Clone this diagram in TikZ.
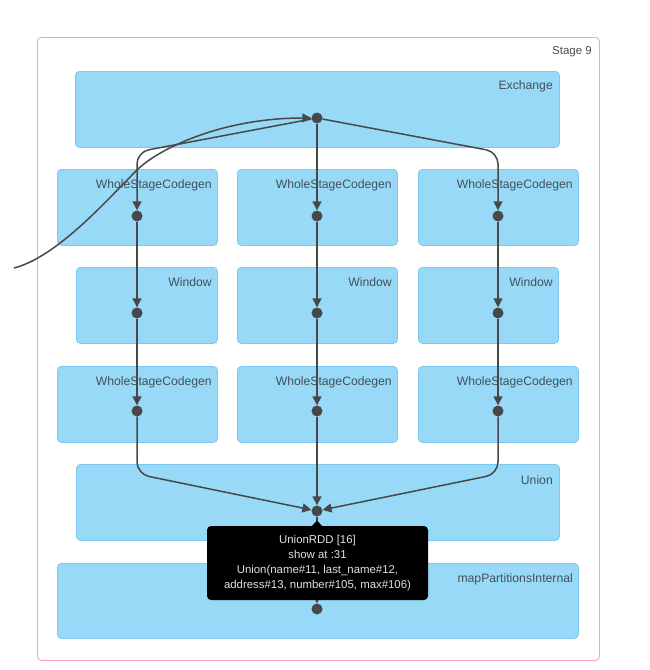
\documentclass[tikz,border=0pt]{standalone}
\usepackage{fontspec}
\setmainfont{Liberation Sans}
\usetikzlibrary{arrows.meta,calc}
\definecolor{boxfill}{RGB}{152,217,248}
\definecolor{boxline}{RGB}{125,200,240}
\definecolor{lbltext}{RGB}{68,80,90}
\definecolor{edgec}{RGB}{72,72,72}
\definecolor{stagec}{RGB}{242,160,190}
\tikzset{
  stagebox/.style={draw=stagec, line width=0.8pt, fill=white, rounded corners=4pt, inner sep=0pt, anchor=north west},
  opbox/.style={draw=boxline, line width=0.8pt, fill=boxfill, rounded corners=4pt, inner sep=0pt, anchor=north west},
  lbl/.style={anchor=north east, inner sep=0pt, text=lbltext, font=\fontsize{12.2}{14}\selectfont},
  dotnode/.style={circle, fill=edgec, inner sep=0pt, minimum size=11pt},
  edge/.style={draw=edgec, line width=1.5pt, -{Triangle[length=9pt,width=9pt]}},
  tipbox/.style={fill=black, rounded corners=4pt, inner sep=0pt, align=center, text=white!88!black,
    font=\fontsize{11.4}{15}\selectfont},
}
\begin{document}
\begin{tikzpicture}[x=1pt,y=-1pt]
\useasboundingbox (0,0) rectangle (650,670);
\fill[white] (0,0) rectangle (650,670);
% stage
\node[stagebox, minimum width=562pt, minimum height=623pt] (stage) at (37,37) {};
\node[lbl, text=black!70, font=\fontsize{11.5}{13}\selectfont] (stagelbl) at (592,46) {Stage 9};
% boxes
\node[opbox, minimum width=484pt, minimum height=76pt] (exch) at (75,71) {};
\node[lbl] (exchl) at (553,80) {Exchange};
\node[opbox, minimum width=160pt, minimum height=76pt] (wa1) at (57,169) {};
\node[opbox, minimum width=160pt, minimum height=76pt] (wa2) at (237,169) {};
\node[opbox, minimum width=160pt, minimum height=76pt] (wa3) at (418,169) {};
\node[lbl] (wa1l) at (212,179) {WholeStageCodegen};
\node[lbl] (wa2l) at (392,179) {WholeStageCodegen};
\node[lbl] (wa3l) at (573,179) {WholeStageCodegen};
\node[opbox, minimum width=141pt, minimum height=76pt] (wi1) at (76,267) {};
\node[opbox, minimum width=160pt, minimum height=76pt] (wi2) at (237,267) {};
\node[opbox, minimum width=140pt, minimum height=76pt] (wi3) at (418,267) {};
\node[lbl] (wi1l) at (212,277) {Window};
\node[lbl] (wi2l) at (392,277) {Window};
\node[lbl] (wi3l) at (553,277) {Window};
\node[opbox, minimum width=160pt, minimum height=76pt] (wb1) at (57,366) {};
\node[opbox, minimum width=160pt, minimum height=76pt] (wb2) at (237,366) {};
\node[opbox, minimum width=160pt, minimum height=76pt] (wb3) at (418,366) {};
\node[lbl] (wb1l) at (212,376) {WholeStageCodegen};
\node[lbl] (wb2l) at (392,376) {WholeStageCodegen};
\node[lbl] (wb3l) at (573,376) {WholeStageCodegen};
\node[opbox, minimum width=483pt, minimum height=76pt] (un) at (76,464) {};
\node[lbl] (unl) at (553,475) {Union};
\node[opbox, minimum width=521pt, minimum height=75pt] (mp) at (57,563) {};
\node[lbl] (mpl) at (573,573) {mapPartitionsInternal};
% dots
\node[dotnode] (ed) at (317,118) {};
\node[dotnode] (a1) at (137,216) {};
\node[dotnode] (a2) at (317,216) {};
\node[dotnode] (a3) at (498,216) {};
\node[dotnode] (i1) at (137,313) {};
\node[dotnode] (i2) at (317,313) {};
\node[dotnode] (i3) at (498,313) {};
\node[dotnode] (b1) at (137,411) {};
\node[dotnode] (b2) at (317,411) {};
\node[dotnode] (b3) at (498,411) {};
\node[dotnode] (ud) at (317,511) {};
\node[dotnode] (md) at (317,609) {};
\coordinate (src) at (14,268);
% edges
\draw[edge] (src) .. controls (57,257) and (107,200) .. (137,170) .. controls (157,150) and (220,118) .. (ed);
\draw[edge, rounded corners=12pt] (ed) -- (137,152) -- (a1);
\draw[edge] (ed) -- (a2);
\draw[edge, rounded corners=12pt] (ed) -- (498,152) -- (a3);
\draw[edge] (a1) -- (i1);
\draw[edge] (a2) -- (i2);
\draw[edge] (a3) -- (i3);
\draw[edge] (i1) -- (b1);
\draw[edge] (i2) -- (b2);
\draw[edge] (i3) -- (b3);
\draw[edge, rounded corners=12pt] (b1) -- (137,474) -- (ud);
\draw[edge] (b2) -- (ud);
\draw[edge, rounded corners=12pt] (b3) -- (498,474) -- (ud);
\draw[edge] (ud) -- (md);
% tooltip
\node[tipbox, minimum width=221pt, minimum height=74pt] (tip) at (317.5,563) {UnionRDD [16]\\show at :31\\Union(name\#11, last\_name\#12,\\address\#13, number\#105, max\#106)};
\fill[black] (311,527) -- (317,520.5) -- (323,527) -- cycle;
\end{tikzpicture}
\end{document}
